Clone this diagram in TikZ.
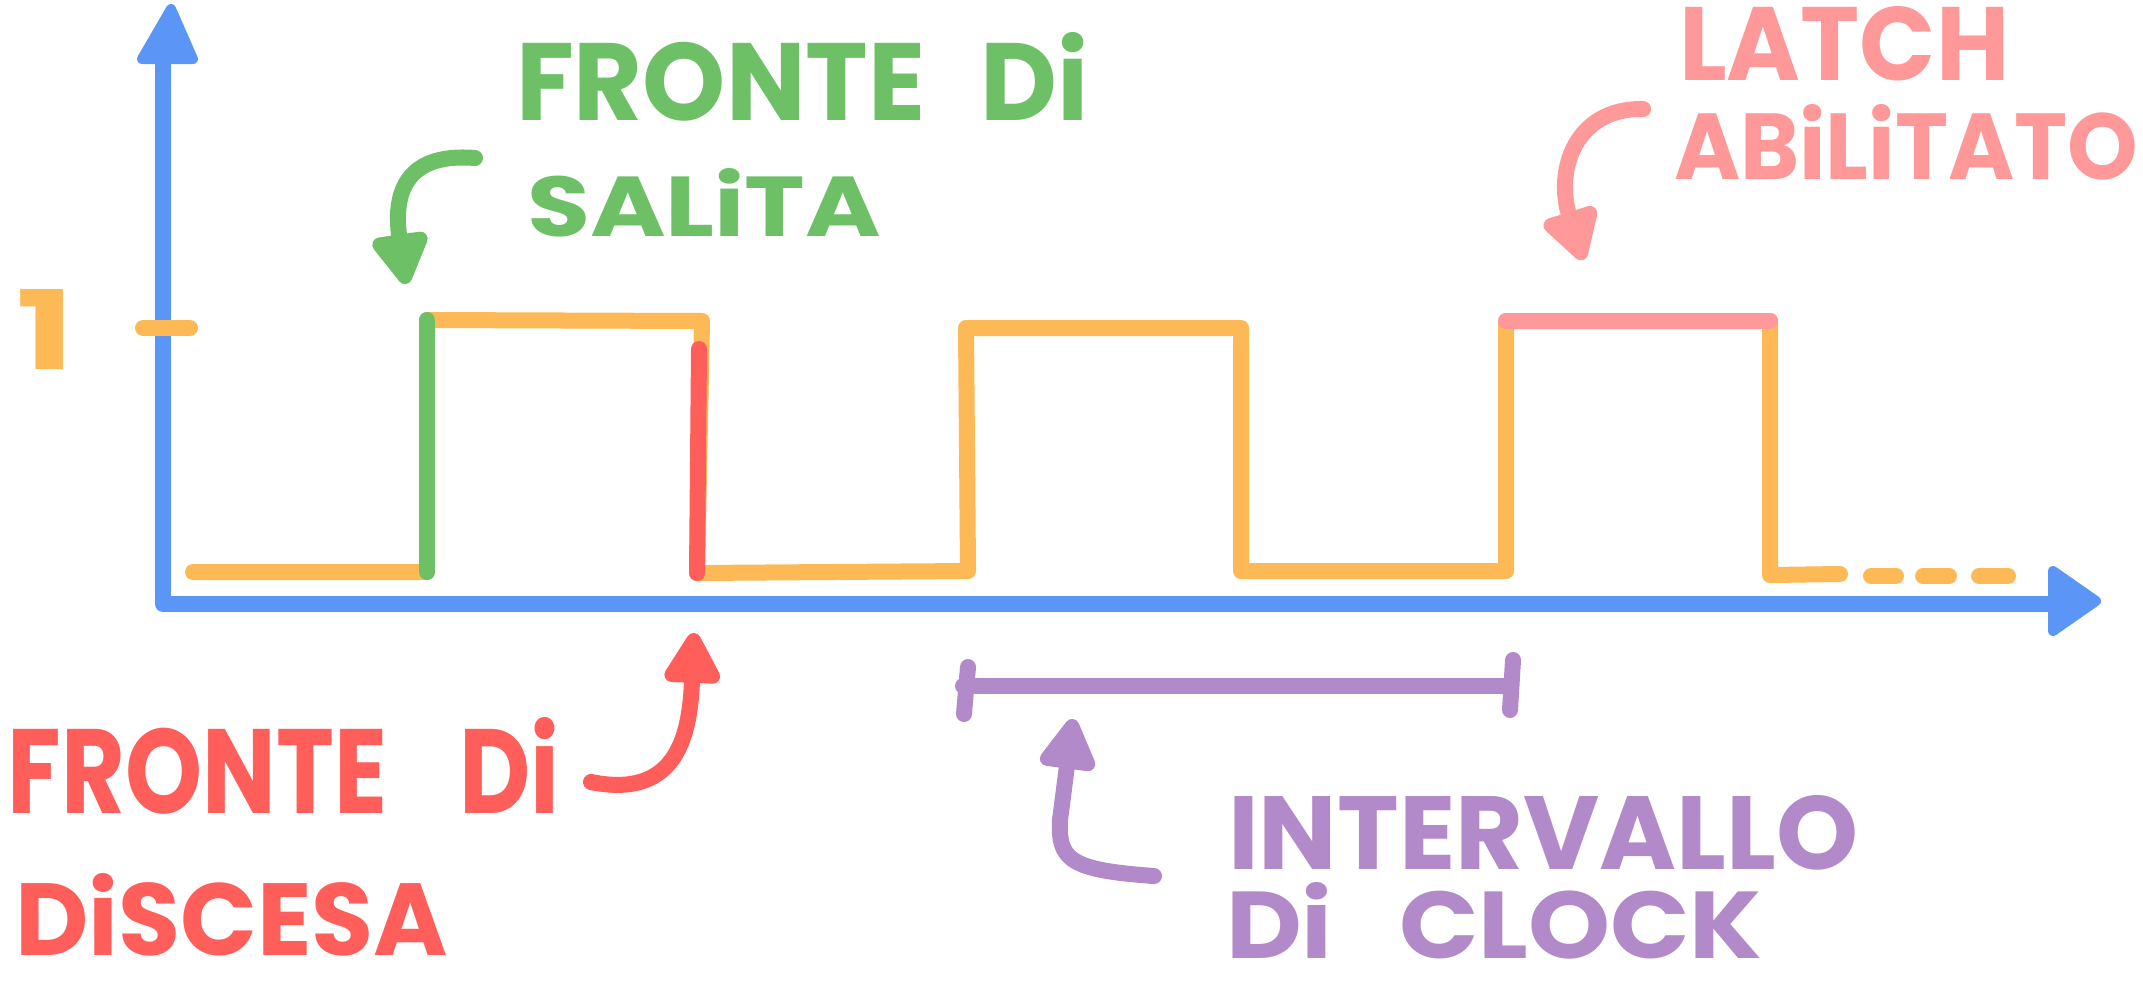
\documentclass[tikz,border=0pt]{standalone}
\usepackage{fontspec}
\usetikzlibrary{arrows.meta}
\newfontfamily\handfont{Poppins}
\definecolor{cblue}{HTML}{5B96F7}
\definecolor{corange}{HTML}{FDB955}
\definecolor{cgreen}{HTML}{6DC066}
\definecolor{cred}{HTML}{FF5E5B}
\definecolor{cpink}{HTML}{FF9999}
\definecolor{cpurple}{HTML}{B28AC9}
\newsavebox\handbox
\newlength\handw
\newlength\handh
% #1 target width, #2 target height, #3 text
\newcommand{\handtext}[3]{%
  \sbox\handbox{\handfont\bfseries\fontsize{10pt}{10pt}\selectfont #3}%
  \setlength\handh{\ht\handbox}%
  \pgfmathsetmacro\handsize{10*(#2)/\handh}%
  \sbox\handbox{\handfont\bfseries\fontsize{\handsize pt}{\handsize pt}\selectfont #3}%
  \setlength\handw{\wd\handbox}%
  \pgfmathsetmacro\handstretch{(#1)/\handw}%
  \edef\handsel{\noexpand\addfontfeatures{FakeStretch=\handstretch}}%
  {\handfont\bfseries\fontsize{\handsize pt}{\handsize pt}\selectfont\handsel #3}%
}
\tikzset{
  stroke/.style={line width=0.16cm, line cap=round, line join=round},
  txt/.style={inner sep=0pt, outer sep=0pt, anchor=north west},
  tipped/.style={-{Triangle[length=0.58cm, width=0.62cm, round]}},
  headfill/.style={line width=0.1cm, line join=round}
}
\begin{document}
\begin{tikzpicture}[x=0.01cm, y=-0.01cm]
\useasboundingbox (0,0) rectangle (2143,1000);

% ---- axes ----
\coordinate (origin) at (163,604);
\coordinate (ytop) at (163,62);
\coordinate (xend) at (2052,604);
\draw[stroke, cblue] (ytop) -- (origin) -- (xend);
\filldraw[headfill, cblue] (142,59) -- (171,9) -- (193,59) -- cycle;
\filldraw[headfill, cblue] (2053,571) -- (2096,601) -- (2053,631) -- cycle;

% ---- level 1 mark ----
\draw[stroke, corange] (143,328) -- (190,328);
\node[txt, text=corange] (one) at (17,289) {\handtext{0.58cm}{0.80cm}{1}};

% ---- clock signal ----
\draw[stroke, corange] (193,572) -- (427,572) -- (427,320) -- (702,321)
  -- (697,573) -- (968,571) -- (966,328) -- (1241,328) -- (1241,571)
  -- (1506,571) -- (1506,321) -- (1770,321) -- (1770,575) -- (1840,574);
\draw[stroke, corange] (1871,576) -- (1896,576);
\draw[stroke, corange] (1923,576) -- (1949,576);
\draw[stroke, corange] (1979,576) -- (2008,576);

% highlighted parts
\draw[stroke, cgreen] (427,320) -- (427,572);
\draw[stroke, cred] (699,349) -- (697,573);
\draw[stroke, cpink] (1506,321) -- (1770,321);

% ---- clock interval ----
\coordinate (ivl) at (963,686);
\coordinate (ivr) at (1511,686);
\draw[stroke, cpurple] (ivl) -- (ivr);
\draw[stroke, cpurple] (968,667) -- (964,714);
\draw[stroke, cpurple] (1513,660) -- (1510,710);

% ---- labels ----
\node[txt, text=cgreen] (salita1) at (516,32) {\handtext{5.70cm}{0.88cm}{FRONTE\hspace{0.5em}Di}};
\node[txt, text=cgreen] (salita2) at (527,168) {\handtext{3.54cm}{0.68cm}{SALiTA}};

\node[txt, text=cpink] (latch1) at (1679,6) {\handtext{3.30cm}{0.74cm}{LATCH}};
\node[txt, text=cpink] (latch2) at (1674,104) {\handtext{4.64cm}{0.75cm}{ABiLiTATO}};

\node[txt, text=cred] (discesa1) at (8,717) {\handtext{5.38cm}{0.96cm}{FRONTE\hspace{0.6em}Di}};
\node[txt, text=cred] (discesa2) at (15,873) {\handtext{4.33cm}{0.82cm}{DiSCESA}};

\node[txt, text=cpurple] (clock1) at (1228,795) {\handtext{6.30cm}{0.74cm}{INTERVALLO}};
\node[txt, text=cpurple] (clock2) at (1226,882) {\handtext{5.43cm}{0.76cm}{Di\hspace{0.7em}CLOCK}};

% ---- annotation arrows ----
\coordinate (gs) at (475,158);
\coordinate (ge) at (406,284);
\draw[stroke, cgreen, tipped] (gs) .. controls (400,152) and (394,200) .. (ge);

\coordinate (ps) at (1643,109);
\coordinate (pe) at (1583,260);
\draw[stroke, cpink, tipped] (ps) .. controls (1575,108) and (1555,170) .. (pe);

\coordinate (rs) at (591,782);
\coordinate (re) at (694,633);
\draw[stroke, cred, tipped] (rs) .. controls (680,800) and (690,730) .. (re);

\coordinate (vs) at (1154,876);
\coordinate (vm) at (1060,820);
\coordinate (ve) at (1073,719);
\draw[stroke, cpurple, tipped] (vs) .. controls (1070,870) and (1058,860) .. (vm) -- (ve);
\end{tikzpicture}
\end{document}
